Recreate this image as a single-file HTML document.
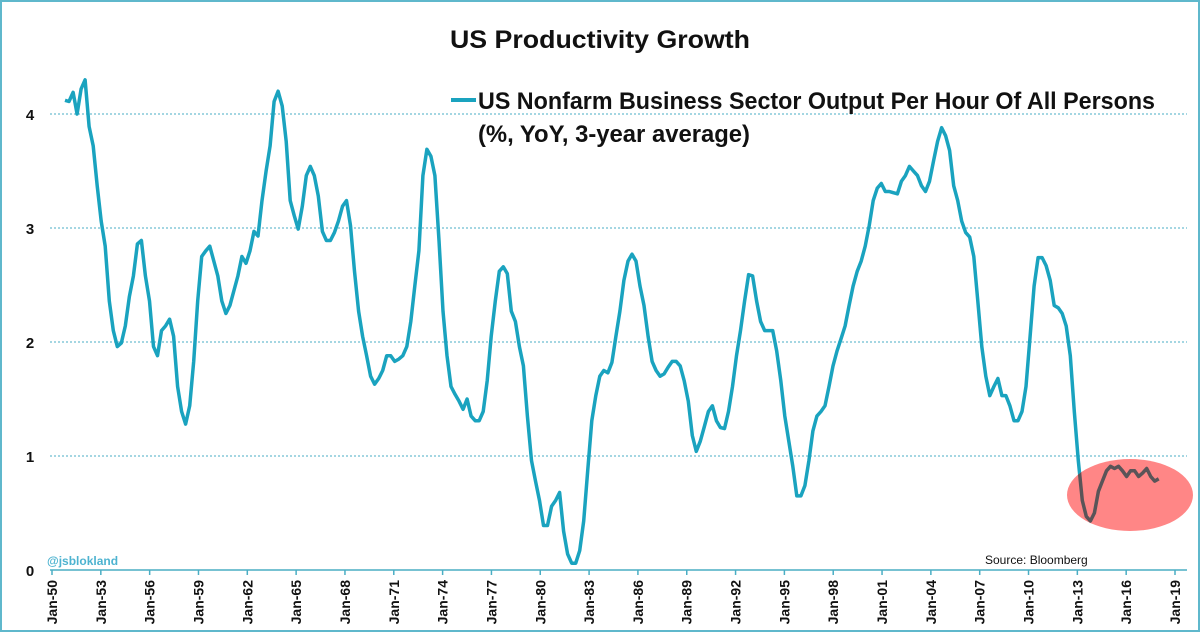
<!DOCTYPE html>
<html><head><meta charset="utf-8"><style>
html,body{margin:0;padding:0;background:#fff}
svg{display:block}
</style></head><body>
<svg id="chart" width="1200" height="632" viewBox="0 0 1200 632" font-family="'Liberation Sans', sans-serif">
<defs><clipPath id="ellclip"><ellipse cx="1130" cy="495" rx="63" ry="36"/></clipPath></defs>
<rect x="1" y="1" width="1198" height="630" fill="#fff" stroke="#5fb8cc" stroke-width="2"/>
<text x="600" y="48" text-anchor="middle" font-size="25" font-weight="bold" fill="#111" textLength="300" lengthAdjust="spacingAndGlyphs">US Productivity Growth</text>
<g id="grid"></g>
<g id="yaxis"></g>
<g id="xaxis"></g>
<g id="series"></g>
<ellipse cx="1130" cy="495" rx="63" ry="36" fill="#ff8686"/>
<g id="series-hl" clip-path="url(#ellclip)"></g>
<line x1="451" y1="100" x2="476" y2="100" stroke="#1aa3bf" stroke-width="4"/>
<text x="478" y="109" font-size="24" font-weight="bold" fill="#111" textLength="677" lengthAdjust="spacingAndGlyphs">US Nonfarm Business Sector Output Per Hour Of All Persons</text>
<text x="478" y="142" font-size="24" font-weight="bold" fill="#111" textLength="272" lengthAdjust="spacingAndGlyphs">(%, YoY, 3-year average)</text>
<text x="47" y="565" font-size="12" font-weight="bold" fill="#4db3d0">@jsblokland</text>
<text x="985" y="564" font-size="12" fill="#111">Source:  Bloomberg</text>
</svg>
<script>
const yTicks = [0, 1, 2, 3, 4];
const xTickLabels = ["Jan-50","Jan-53","Jan-56","Jan-59","Jan-62","Jan-65","Jan-68","Jan-71","Jan-74","Jan-77","Jan-80","Jan-83","Jan-86","Jan-89","Jan-92","Jan-95","Jan-98","Jan-01","Jan-04","Jan-07","Jan-10","Jan-13","Jan-16","Jan-19"];
const xTickYears = [1950,1953,1956,1959,1962,1965,1968,1971,1974,1977,1980,1983,1986,1989,1992,1995,1998,2001,2004,2007,2010,2013,2016,2019];
const seriesStartYear = 1950.8;
const seriesEndYear = 2018.0;
const productivity = [4.12,4.11,4.19,4.00,4.22,4.30,3.89,3.72,3.37,3.06,2.84,2.36,2.10,1.96,1.99,2.14,2.40,2.58,2.86,2.89,2.58,2.36,1.96,1.88,2.10,2.14,2.20,2.05,1.61,1.39,1.28,1.44,1.83,2.36,2.75,2.80,2.84,2.71,2.58,2.36,2.25,2.32,2.45,2.58,2.75,2.69,2.80,2.97,2.93,3.24,3.50,3.72,4.11,4.20,4.07,3.76,3.24,3.11,2.99,3.19,3.46,3.54,3.46,3.28,2.97,2.89,2.89,2.96,3.06,3.19,3.24,3.02,2.62,2.27,2.05,1.88,1.70,1.63,1.68,1.75,1.88,1.88,1.83,1.85,1.88,1.96,2.18,2.49,2.80,3.46,3.69,3.63,3.46,2.89,2.27,1.88,1.61,1.54,1.48,1.41,1.50,1.35,1.31,1.31,1.39,1.66,2.05,2.36,2.62,2.66,2.60,2.27,2.18,1.96,1.79,1.35,0.96,0.78,0.61,0.39,0.39,0.56,0.61,0.68,0.34,0.14,0.06,0.06,0.17,0.43,0.87,1.31,1.53,1.70,1.75,1.73,1.82,2.05,2.27,2.54,2.71,2.77,2.71,2.49,2.32,2.05,1.83,1.75,1.70,1.72,1.78,1.83,1.83,1.79,1.66,1.48,1.18,1.04,1.13,1.26,1.39,1.44,1.31,1.25,1.24,1.39,1.61,1.88,2.10,2.36,2.59,2.58,2.36,2.18,2.10,2.10,2.10,1.92,1.66,1.35,1.13,0.91,0.65,0.65,0.74,0.96,1.22,1.35,1.39,1.44,1.61,1.79,1.92,2.03,2.14,2.32,2.49,2.62,2.71,2.84,3.02,3.24,3.35,3.39,3.32,3.32,3.31,3.30,3.41,3.46,3.54,3.50,3.46,3.37,3.32,3.41,3.59,3.76,3.88,3.81,3.68,3.37,3.24,3.06,2.96,2.92,2.75,2.36,1.96,1.70,1.53,1.61,1.68,1.53,1.53,1.44,1.31,1.31,1.39,1.61,2.05,2.49,2.74,2.74,2.67,2.54,2.32,2.30,2.25,2.14,1.88,1.39,0.96,0.61,0.47,0.43,0.50,0.69,0.78,0.87,0.91,0.89,0.91,0.87,0.82,0.87,0.87,0.82,0.85,0.89,0.82,0.78,0.80];

const NS = "http://www.w3.org/2000/svg";
const X0 = 52, X1 = 1175, Y0 = 570, PXU = 114;
function xScale(yr){ return X0 + (yr - 1950) / (2019 - 1950) * (X1 - X0); }
function yScale(v){ return Y0 - v * PXU; }
function mk(tag, attrs, parent){ const e = document.createElementNS(NS, tag); for (const k in attrs) e.setAttribute(k, attrs[k]); parent.appendChild(e); return e; }

const grid = document.getElementById('grid');
const yaxis = document.getElementById('yaxis');
yTicks.forEach(v => {
  if (v > 0) {
    const gl = mk('line', {x1: 50, x2: 1187, y1: yScale(v), y2: yScale(v), stroke: '#4aaec4', 'stroke-width': 1, 'stroke-dasharray': '2,2'}, grid);
    
    
  }
  const t = mk('text', {x: 30, y: yScale(v) + 6, 'text-anchor': 'middle', 'font-size': 15, 'font-weight': 'bold', fill: '#111'}, yaxis);
  t.textContent = String(v);
  
  
});

const xaxis = document.getElementById('xaxis');
const axl = mk('line', {x1: 50, x2: 1187, y1: Y0, y2: Y0, stroke: '#4aaec4', 'stroke-width': 1.5}, xaxis);


xTickLabels.forEach((lab, i) => {
  const x = xScale(xTickYears[i]);
  const tk = mk('line', {x1: x, x2: x, y1: Y0, y2: Y0 + 5, stroke: '#4aaec4', 'stroke-width': 1.5}, xaxis);
  
  
  const t = mk('text', {x: 0, y: 0, transform: `translate(${x + 5},580) rotate(-90)`, 'text-anchor': 'end', 'font-size': 14, 'font-weight': 'bold', fill: '#111'}, xaxis);
  t.textContent = lab;
  
  
});

const n = productivity.length;
const step = (seriesEndYear - seriesStartYear) / (n - 1);
const pts = productivity.map((v, i) => xScale(seriesStartYear + i * step).toFixed(1) + ',' + yScale(v).toFixed(1)).join(' ');
const pl = mk('polyline', {points: pts, fill: 'none', stroke: '#1aa3bf', 'stroke-width': 3.5, 'stroke-linejoin': 'round'}, document.getElementById('series'));


const pl2 = mk('polyline', {points: pts, fill: 'none', stroke: '#5a5458', 'stroke-width': 3.5, 'stroke-linejoin': 'round'}, document.getElementById('series-hl'));


</script>
</body></html>
